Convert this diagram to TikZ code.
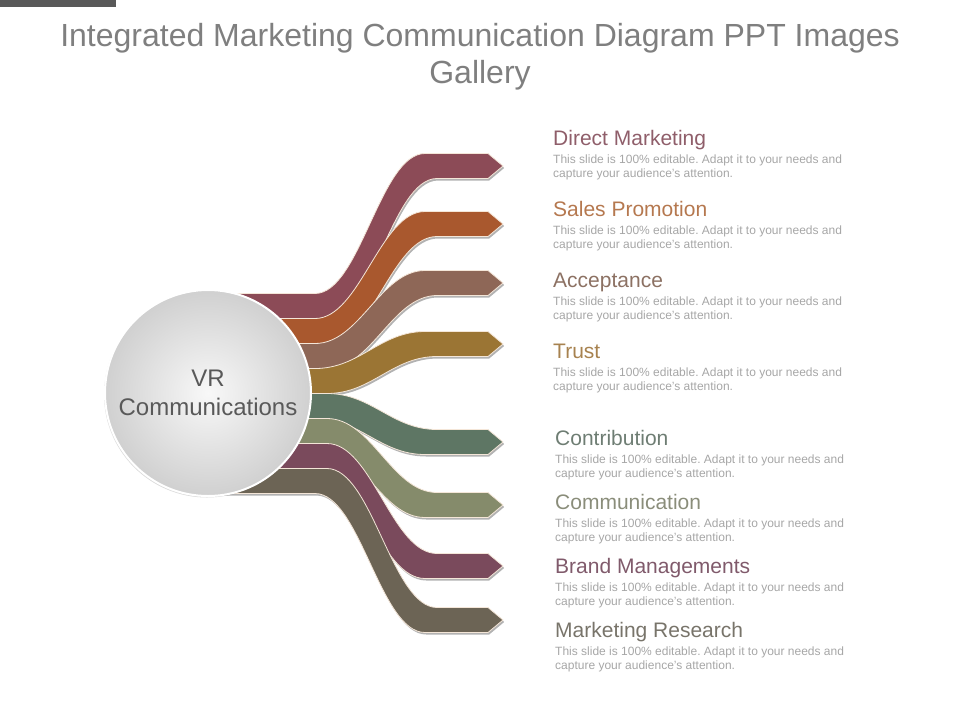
\documentclass[tikz,border=0pt]{standalone}
\usepackage{fontspec}
\setmainfont{Liberation Sans}
\usetikzlibrary{shadows}
\frenchspacing
\definecolor{topbar}{HTML}{595959}
\definecolor{titlegray}{HTML}{7F7F7F}
\definecolor{bodygray}{HTML}{A6A6A6}
\definecolor{hubtext}{HTML}{595959}
\definecolor{hubin}{HTML}{F8F8F8}
\definecolor{hubout}{HTML}{D0D0D0}
\definecolor{ribedge}{HTML}{F4E6D8}
\definecolor{rib0}{HTML}{8C4B57}
\definecolor{rib1}{HTML}{A9582E}
\definecolor{rib2}{HTML}{8E6757}
\definecolor{rib3}{HTML}{9B7534}
\definecolor{rib4}{HTML}{5E7664}
\definecolor{rib5}{HTML}{858B6B}
\definecolor{rib6}{HTML}{7A4A5C}
\definecolor{rib7}{HTML}{6C6455}
\definecolor{hd0}{HTML}{8F5E6A}
\definecolor{hd1}{HTML}{B5784F}
\definecolor{hd2}{HTML}{8C7163}
\definecolor{hd3}{HTML}{A7824F}
\definecolor{hd4}{HTML}{6E7D73}
\definecolor{hd5}{HTML}{8A8D7A}
\definecolor{hd6}{HTML}{805A6B}
\definecolor{hd7}{HTML}{78746A}
\tikzset{
  ribbon/.style={fill=#1, draw=ribedge, line width=.8pt, line join=round,
    drop shadow={shadow xshift=1.2pt, shadow yshift=-2pt, opacity=.3, fill=black}},
  hub/.style={circle, minimum size=206pt, inner sep=0pt, draw=white, line width=2pt,
    inner color=hubin, outer color=hubout, align=center, text=hubtext,
    font=\fontsize{24}{28.5}\selectfont,
    drop shadow={shadow xshift=-1pt, shadow yshift=-1.5pt, opacity=.15, fill=black}},
  title/.style={anchor=north, inner sep=0pt, align=center, text=titlegray,
    font=\fontsize{32}{37}\selectfont},
  head/.style={anchor=base west, inner sep=0pt, font=\fontsize{21}{25}\selectfont},
  body/.style={anchor=north west, inner sep=0pt, align=left, text=bodygray,
    font=\fontsize{12}{14}\selectfont}
}
\newcommand\ribbonshape[5]{%
  \fill[ribbon=#1] (200,#2-12.5) -- (#4,#2-12.5)
    .. controls +(45,0) and +(-45,0) .. (#4+110,#3-12.5) -- (488,#3-12.5)
    -- (503,#3) -- (488,#3+12.5) -- (#5+110,#3+12.5)
    .. controls +(-45,0) and +(45,0) .. (#5,#2+12.5) -- (200,#2+12.5) -- cycle;}
\begin{document}
\begin{tikzpicture}[x=1pt, y=-1pt]
\useasboundingbox (0,0) rectangle (960,720);
\fill[topbar] (0,0) rectangle (116,7);
\node[title] (ttl) at (480,23) {Integrated Marketing Communication Diagram PPT Images\\Gallery};
\ribbonshape{rib0}{306}{166}{315}{327}
\ribbonshape{rib1}{331}{224}{315}{327}
\ribbonshape{rib2}{356}{283}{315}{327}
\ribbonshape{rib3}{381}{344}{315}{327}
\ribbonshape{rib4}{406}{442}{327}{315}
\ribbonshape{rib5}{431}{505}{327}{315}
\ribbonshape{rib6}{456}{566}{327}{315}
\ribbonshape{rib7}{481}{620}{327}{315}
\node[hub] (hub) at (208,393) {VR\\Communications};
\node[head, text=hd0] (hd0) at (553,145) {Direct Marketing};
\node[body] (tx0) at (553,155) {This slide is 100\% editable. Adapt it to your needs and\\capture your audience's attention.};
\node[head, text=hd1] (hd1) at (553,216) {Sales Promotion};
\node[body] (tx1) at (553,226) {This slide is 100\% editable. Adapt it to your needs and\\capture your audience's attention.};
\node[head, text=hd2] (hd2) at (553,287) {Acceptance};
\node[body] (tx2) at (553,297) {This slide is 100\% editable. Adapt it to your needs and\\capture your audience's attention.};
\node[head, text=hd3] (hd3) at (553,358) {Trust};
\node[body] (tx3) at (553,368) {This slide is 100\% editable. Adapt it to your needs and\\capture your audience's attention.};
\node[head, text=hd4] (hd4) at (555,445) {Contribution};
\node[body] (tx4) at (555,455) {This slide is 100\% editable. Adapt it to your needs and\\capture your audience's attention.};
\node[head, text=hd5] (hd5) at (555,509) {Communication};
\node[body] (tx5) at (555,519) {This slide is 100\% editable. Adapt it to your needs and\\capture your audience's attention.};
\node[head, text=hd6] (hd6) at (555,573) {Brand Managements};
\node[body] (tx6) at (555,583) {This slide is 100\% editable. Adapt it to your needs and\\capture your audience's attention.};
\node[head, text=hd7] (hd7) at (555,637) {Marketing Research};
\node[body] (tx7) at (555,647) {This slide is 100\% editable. Adapt it to your needs and\\capture your audience's attention.};
\end{tikzpicture}
\end{document}
